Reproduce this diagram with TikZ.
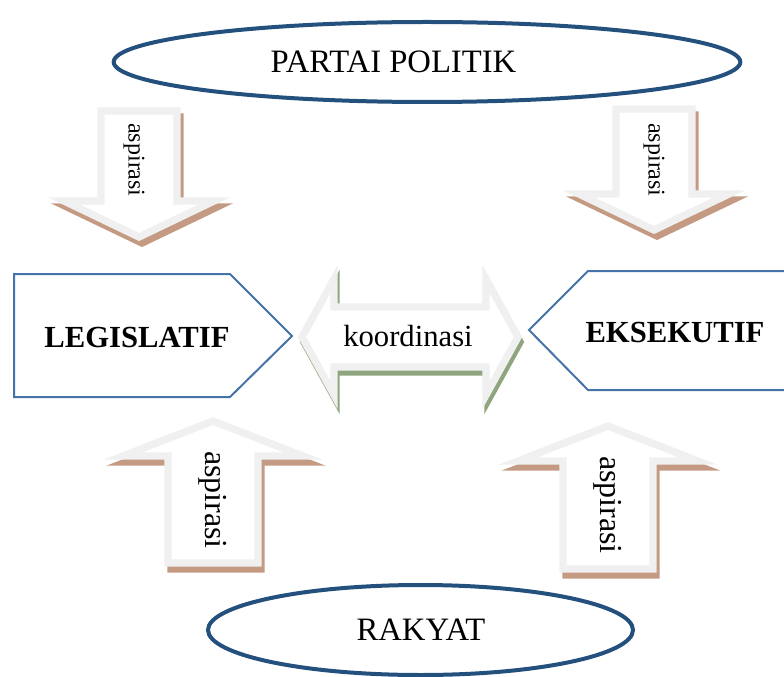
\documentclass[tikz,border=0pt]{standalone}
\usepackage{fontspec}
\setmainfont{Liberation Serif}
\usetikzlibrary{shapes.geometric}
\definecolor{ovalblue}{HTML}{23507D}
\definecolor{boxblue}{HTML}{4673AA}
\definecolor{arrgray}{HTML}{F0F0F0}
\definecolor{shadebrown}{HTML}{C49A82}
\definecolor{shadegreen}{HTML}{8FA57F}
\def\arrdown[#1](#2,#3,#4){\draw[#1] (#2-38,#3) -- (#2+38,#3) -- (#2+38,#4) -- (#2+75,#4) -- (#2,#4+36) -- (#2-75,#4) -- (#2-38,#4) -- cycle;}
\def\arrup[#1](#2,#3,#4){\draw[#1] (#2,#3) -- (#2+90,#3+35) -- (#2+45,#3+35) -- (#2+45,#4) -- (#2-45,#4) -- (#2-45,#3+35) -- (#2-90,#3+35) -- cycle;}
\def\arrboth[#1](#2,#3){\draw[#1] (#2-108,#3) -- (#2-76,#3-58) -- (#2-76,#3-30) -- (#2+76,#3-30) -- (#2+76,#3-58) -- (#2+108,#3) -- (#2+76,#3+58) -- (#2+76,#3+30) -- (#2-76,#3+30) -- (#2-76,#3+58) -- cycle;}
\tikzset{
	oval/.style={ellipse, draw=ovalblue, line width=3pt, inner sep=0pt},
	ovaltext/.style={inner sep=0pt, font=\fontsize{24.5}{29}\selectfont},
	arrbody/.style={fill=white, draw=arrgray, line width=5.5pt},
	brownshade/.style={fill=shadebrown, draw=shadebrown, line width=5.5pt, shift={(3,6)}},
	greenshade/.style={fill=shadegreen, draw=shadegreen, line width=5.5pt, shift={(2,5)}},
	pentbox/.style={fill=white, draw=boxblue, line width=1.5pt},
	boxtext/.style={inner sep=0pt, font=\fontsize{23}{27}\selectfont\bfseries},
	midtext/.style={inner sep=0pt, font=\fontsize{23}{27}\selectfont},
	asptop/.style={inner sep=0pt, rotate=-90, font=\fontsize{18}{22}\selectfont},
	aspbot/.style={inner sep=0pt, rotate=-90, font=\fontsize{24}{28}\selectfont}
}

\begin{document}
\begin{tikzpicture}[x=0.75pt,y=-0.75pt]
			%%%%% START %%%%%
			\useasboundingbox (0,0) rectangle (784,677);
			
			\node[oval, minimum width=470pt, minimum height=60pt] (partai-oval) at (427,62) {};
			\node[ovaltext] (partai) at (393.5,62) {PARTAI POLITIK};
			\node[oval, minimum width=318.75pt, minimum height=67.5pt] (rakyat-oval) at (420.5,630) {};
			\node[ovaltext] (rakyat) at (421,630) {RAKYAT};
			
			\arrdown[brownshade](139,111,201);
			\arrdown[arrbody](139,111,201);
			\node[asptop] (asp-kiri) at (134,160) {aspirasi};
			
			\arrdown[brownshade](654,109,194);
			\arrdown[arrbody](654,109,194);
			\node[asptop] (asp-kanan) at (654,160) {aspirasi};
			
			\draw[pentbox] (14,274) -- (230,274) -- (292,336) -- (230,397) -- (14,397) -- cycle;
			\node[boxtext] (legis) at (137,337) {LEGISLATIF};
			
			\draw[pentbox] (790,271) -- (588,271) -- (529,330) -- (588,390) -- (790,390) -- cycle;
			\node[boxtext] (eksek) at (675,332) {EKSEKUTIF};
			
			\arrboth[greenshade](410,337);
			\arrboth[arrbody](410,337);
			\node[midtext] (koord) at (408,336) {koordinasi};
			
			\arrup[brownshade](213,421,563);
			\arrup[arrbody](213,421,563);
			\node[aspbot] (asp-rakyat1) at (213,500) {aspirasi};
			
			\arrup[brownshade](608,426,569);
			\arrup[arrbody](608,426,569);
			\node[aspbot] (asp-rakyat2) at (608,505) {aspirasi};
			
			%%%%% END %%%%%
\end{tikzpicture}
\end{document}
